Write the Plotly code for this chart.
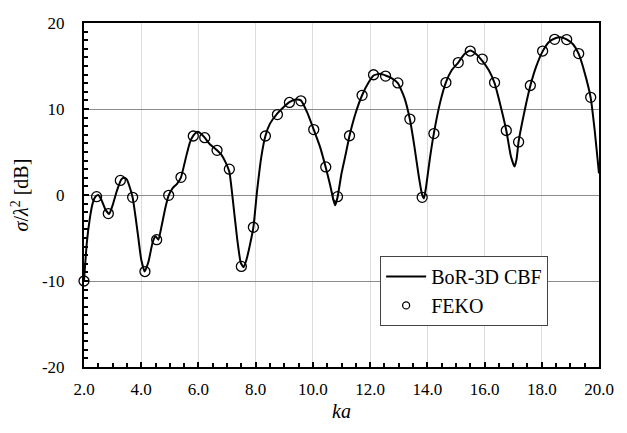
import plotly.graph_objects as go

# BoR-3D CBF curve
cbf_ka = [2.00, 2.10, 2.20, 2.30, 2.40, 2.50, 2.60, 2.75, 2.88, 3.00, 3.15, 3.30, 3.40, 3.50,
          3.60, 3.70, 3.80, 3.90, 4.00, 4.12, 4.25, 4.40, 4.50, 4.60, 4.70, 4.85, 4.96, 5.10,
          5.25, 5.39, 5.55, 5.70, 5.82, 5.97, 6.10, 6.22, 6.40, 6.55, 6.65, 6.80, 6.95, 7.08,
          7.20, 7.35, 7.48, 7.58, 7.68, 7.80, 7.92, 8.05, 8.20, 8.34, 8.50, 8.76, 9.00, 9.18,
          9.40, 9.58, 9.80, 10.03, 10.25, 10.45, 10.60, 10.72, 10.78, 10.86, 11.00, 11.15, 11.28,
          11.50, 11.72, 11.95, 12.12, 12.35, 12.54, 12.75, 12.97, 13.20, 13.39, 13.55, 13.70,
          13.82, 13.88, 13.95, 14.10, 14.23, 14.45, 14.65, 14.85, 15.08, 15.30, 15.50, 15.70,
          15.92, 16.15, 16.35, 16.55, 16.76, 16.92, 17.05, 17.12, 17.19, 17.40, 17.60, 17.80,
          18.03, 18.25, 18.45, 18.65, 18.87, 19.10, 19.29, 19.50, 19.71, 19.85, 20.00]
cbf_db = [-10.0, -5.5, -2.8, -1.0, -0.2, 0.0, -0.5, -1.7, -2.2, -1.2, 0.5, 1.8, 2.0, 1.8,
          0.9, -0.3, -2.5, -5.0, -7.5, -8.9, -7.8, -5.5, -4.8, -5.2, -3.8, -1.4, -0.05, 0.8,
          1.3, 2.05, 4.2, 6.1, 6.9, 7.35, 7.1, 6.66, 5.9, 5.5, 5.2, 4.7, 3.8, 2.7,
          -0.5, -5.0, -7.9, -8.4, -7.5, -5.8, -3.75, 0.5, 4.5, 6.86, 8.3, 9.5, 10.3, 10.8,
          11.1, 11.0, 9.6, 7.6, 5.6, 3.2, 1.2, -0.6, -1.2, -0.3, 2.5, 4.8, 6.9,
          9.6, 11.6, 13.1, 13.9, 14.1, 13.9, 13.6, 13.0, 11.3, 8.8, 5.6, 2.2,
          0.0, -0.4, 0.8, 4.5, 7.2, 10.8, 13.1, 14.5, 15.4, 16.4, 16.8, 16.4,
          15.6, 14.5, 13.0, 10.5, 7.5, 4.5, 3.3, 4.2, 6.2, 9.8, 12.7, 14.9,
          16.7, 17.8, 18.2, 18.35, 18.1, 17.5, 16.4, 14.2, 11.3, 7.5, 2.5]

# FEKO samples
feko_ka = [2.00, 2.44, 2.85, 3.27, 3.70, 4.13, 4.54, 4.96, 5.39, 5.82, 6.22, 6.65, 7.08, 7.50,
           7.92, 8.34, 8.76, 9.18, 9.58, 10.03, 10.45, 10.86, 11.28, 11.72, 12.12, 12.54, 12.97,
           13.39, 13.82, 14.23, 14.65, 15.08, 15.50, 15.92, 16.35, 16.76, 17.19, 17.60, 18.03,
           18.45, 18.87, 19.29, 19.71]
feko_db = [-10.0, -0.19, -2.16, 1.7, -0.27, -8.9, -5.2, -0.04, 2.05, 6.86, 6.66, 5.19, 3.0, -8.3,
           -3.75, 6.86, 9.35, 10.76, 10.95, 7.61, 3.26, -0.19, 6.89, 11.59, 13.98, 13.83, 13.03,
           8.83, -0.27, 7.14, 13.07, 15.4, 16.74, 15.8, 13.07, 7.5, 6.17, 12.73, 16.74,
           18.1, 18.07, 16.44, 11.36]

y_ticks = [-20, -10, 0, 10, 20]
y_labels = ["-20", "-10", "0", "10", "20"]

fig = go.Figure()
fig.add_trace(go.Scatter(
    x=cbf_ka, y=cbf_db, mode="lines", name="BoR-3D CBF",
    line=dict(color="black", width=2, shape="spline", smoothing=0.5),
))
fig.add_trace(go.Scatter(
    x=feko_ka, y=feko_db, mode="markers", name="FEKO", showlegend=False, cliponaxis=False,
    marker=dict(symbol="circle-open", size=10, color="black", line=dict(width=1.3, color="black")),
))
# legend entry only: smaller circle like the original legend
fig.add_trace(go.Scatter(
    x=[None], y=[None], mode="markers", name="FEKO",
    marker=dict(symbol="circle-open", size=7, color="black", line=dict(width=1.3, color="black")),
))

fig.update_layout(
    width=627, height=433,
    margin=dict(l=76, r=36, t=6, b=74),
    paper_bgcolor="white", plot_bgcolor="white",
    font=dict(family="Liberation Serif", size=17, color="black"),
    legend=dict(
        x=0.575, y=0.323, xanchor="left", yanchor="top",
        bgcolor="white", bordercolor="#444", borderwidth=1,
        font=dict(size=20), itemwidth=40, tracegroupgap=0,
    ),
)
fig.update_xaxes(
    range=[2, 20], dtick=2, tickformat=".1f",
    showline=True, linecolor="black", linewidth=2, mirror=True,
    ticks="inside", ticklen=5, tickcolor="black", tickwidth=1.5, ticklabelstandoff=6,
    ticklabeloverflow="allow",
    minor=dict(dtick=0.5, ticks="inside", ticklen=4, tickcolor="black", showgrid=False),
    showgrid=True, gridcolor="#dcdcdc", gridwidth=1, zeroline=False,
    title=dict(text="<i>ka</i>", standoff=6),
)
fig.update_yaxes(
    range=[-20, 20], tickvals=y_ticks, ticktext=y_labels,
    showline=True, linecolor="black", linewidth=2, mirror=True,
    ticks="inside", ticklen=5, tickcolor="black", tickwidth=1.5, ticklabelstandoff=14,
    ticklabeloverflow="allow",
    minor=dict(dtick=1, ticks="inside", ticklen=4, tickcolor="black", showgrid=False),
    showgrid=True, gridcolor="#8c8c8c", gridwidth=1, zeroline=False,
    title=dict(text="<i>σ</i>/<i>λ</i><sup>2</sup> [dB]", standoff=8),
)

fig.write_html("out.html")
